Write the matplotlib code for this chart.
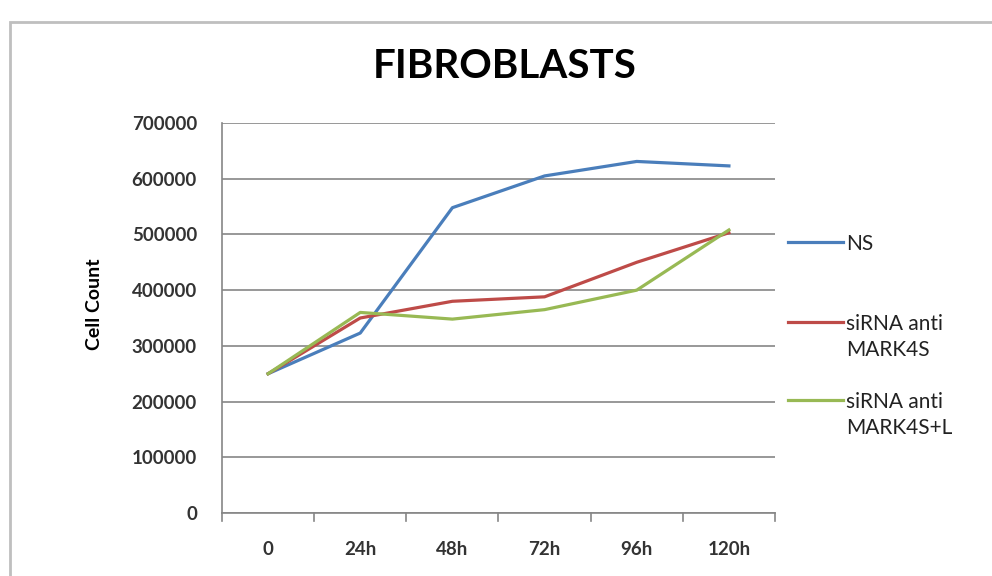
import matplotlib
matplotlib.use("Agg")
import matplotlib.pyplot as plt
from matplotlib.patches import Rectangle
from matplotlib.lines import Line2D

categories = ["0", "24h", "48h", "72h", "96h", "120h"]
ns = [250000, 323000, 548000, 605000, 631000, 623000]
mark4s = [250000, 350000, 380000, 388000, 450000, 503000]
mark4sl = [250000, 360000, 348000, 365000, 400000, 508000]
series_names = ["NS", "siRNA anti\nMARK4S", "siRNA anti\nMARK4S+L"]
colors = ["#4a7ebb", "#be4b48", "#98b954"]
yticks = [0, 100000, 200000, 300000, 400000, 500000, 600000, 700000]

plt.rcParams['font.family'] = ['Lato', 'DejaVu Sans']

W, H = 992, 576
fig = plt.figure(figsize=(W / 100, H / 100), dpi=100)
fig.patches.append(Rectangle((10 / W, -0.1), 1.2, (H - 22) / H + 0.1,
                             transform=fig.transFigure, fill=False,
                             edgecolor="#bfbfbf", linewidth=2))

ax = fig.add_axes([222 / W, 1 - 513 / H, (775 - 222) / W, (513 - 123) / H])
x = list(range(len(categories)))
lines = []
for vals, name, c in zip([ns, mark4s, mark4sl], series_names, colors):
    ln, = ax.plot(x, vals, color=c, linewidth=2.3, label=name)
    lines.append(ln)

ax.set_xlim(-0.5, len(categories) - 0.5)
ax.set_ylim(0, 700000)
ax.set_yticks(yticks)
ax.set_yticklabels([str(v) for v in yticks], fontsize=13.5, fontweight='bold',
                   color="#333333")
ax.set_xticks(x)
ax.set_xticklabels(categories, fontsize=13.5, fontweight='bold', color="#333333")
ax.tick_params(axis='x', length=0, pad=20)
ax.tick_params(axis='y', length=0, pad=18)
for b in [i - 0.5 for i in range(len(categories) + 1)]:
    ax.plot([b, b], [0, -15000], color="#868686", linewidth=1.2, clip_on=False)
ax.yaxis.grid(True, color="#868686", linewidth=1.2)
ax.set_axisbelow(True)
for s in ['top', 'right']:
    ax.spines[s].set_visible(False)
for s in ['left', 'bottom']:
    ax.spines[s].set_color("#868686")
    ax.spines[s].set_linewidth(1.2)

fig.text(95 / W, 1 - 304 / H, "Cell Count", rotation=90, ha='center',
         va='center', fontsize=14, fontweight='bold')
fig.text(505 / W, 1 - 78 / H, "FIBROBLASTS", ha='center', va='baseline',
         fontsize=29, fontweight='bold')

# legend (handle aligned with first text line, as in the reference)
leg_y = [242, 322, 400]
for ln, name, yy in zip(lines, series_names, leg_y):
    fig.add_artist(Line2D([788 / W, 843 / W], [1 - yy / H, 1 - yy / H],
                          transform=fig.transFigure, color=ln.get_color(),
                          linewidth=2.3))
    fig.text(846 / W, 1 - (yy - 8) / H, name, ha='left', va='top',
             fontsize=15, linespacing=1.4, color="#222222")

fig.savefig("out.png", dpi=100)
